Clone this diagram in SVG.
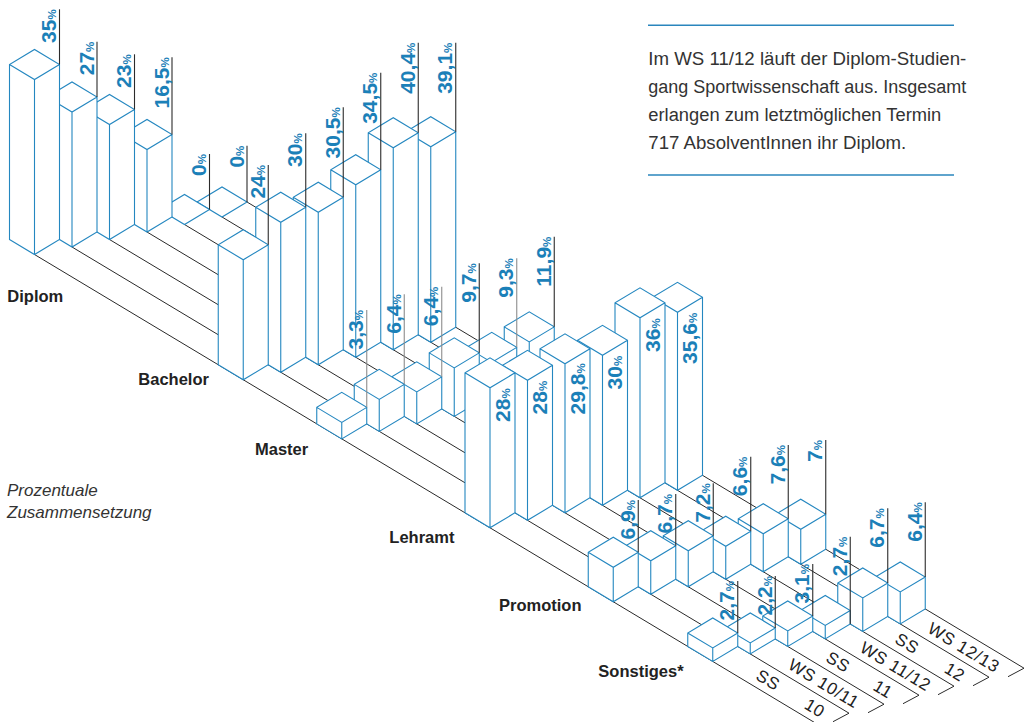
<svg xmlns="http://www.w3.org/2000/svg" width="1026" height="722" viewBox="0 0 1026 722">
<style>
.bx{fill:#fff;stroke:#2487c0;stroke-width:1.1;stroke-linejoin:miter}
.ld{stroke:#2b2b2b;stroke-width:1.1}
.lg{stroke:#8c8c8c;stroke-width:1.1}
.fl{stroke:#2b2b2b;stroke-width:1;fill:none}
.v{font-family:"Liberation Sans",Arial,sans-serif;font-weight:bold;font-size:21px;fill:#1b80b8}
.v tspan{font-size:11.5px}
.cat{font-family:"Liberation Sans",Arial,sans-serif;font-weight:bold;font-size:16.5px;fill:#222}
.tm{font-family:"Liberation Sans",Arial,sans-serif;font-size:17px;fill:#222;letter-spacing:0.7px}
.p{font-family:"Liberation Sans",Arial,sans-serif;font-size:18px;fill:#333}
.it{font-family:"Liberation Sans",Arial,sans-serif;font-size:17px;font-style:italic;fill:#333}
.rule{stroke:#2a86bd;stroke-width:1.4}
</style>

<g id="info">
<line class="rule" x1="648" y1="25.3" x2="954" y2="25.3"/>
<text class="p" x="648.3" y="65" textLength="318" lengthAdjust="spacingAndGlyphs">Im WS 11/12 läuft der Diplom-Studien-</text>
<text class="p" x="648.3" y="93.3" textLength="318" lengthAdjust="spacingAndGlyphs">gang Sportwissenschaft aus. Insgesamt</text>
<text class="p" x="648.3" y="121" textLength="293" lengthAdjust="spacingAndGlyphs">erlangen zum letztmöglichen Termin</text>
<text class="p" x="648.3" y="149" textLength="258" lengthAdjust="spacingAndGlyphs">717 AbsolventInnen ihr Diplom.</text>
<line class="rule" x1="648" y1="175" x2="954" y2="175"/>
</g>

<g id="connectors">
<path class="fl" d="M34.5,254.5L814,722.2L798,730.7"/>
<path class="fl" d="M72,247L849,713.2L833,721.7"/>
<path class="fl" d="M109.5,239.5L884,704.2L868,712.7"/>
<path class="fl" d="M147,232L919,695.2L903,703.7"/>
<path class="fl" d="M184.5,224.5L954,686.2L938,694.7"/>
<path class="fl" d="M222,217L989,677.2L973,685.7"/>
<path class="fl" d="M247,202L1024,668.2L1008,676.7"/>
</g>

<g id="time-labels" class="tm" text-anchor="middle">
<text transform="translate(768.3,679.8) rotate(31)" dy="0.36em">SS</text>
<text transform="translate(815,707.8) rotate(31)" dy="0.36em">10</text>
<text transform="translate(824,683.2) rotate(31)" dy="0.36em">WS 10/11</text>
<text transform="translate(838.3,661.8) rotate(31)" dy="0.36em">SS</text>
<text transform="translate(883.3,688.8) rotate(31)" dy="0.36em">11</text>
<text transform="translate(895.7,666.2) rotate(31)" dy="0.36em">WS 11/12</text>
<text transform="translate(907.3,643.2) rotate(31)" dy="0.36em">SS</text>
<text transform="translate(955,671.8) rotate(31)" dy="0.36em">12</text>
<text transform="translate(964,647.2) rotate(31)" dy="0.36em">WS 12/13</text>
</g>

<g id="diplom">
<g id="diplom-ws1213" transform="translate(222,217)"><path class="bx" d="M-25,-15L0,0L25,-15L0,-30Z"/><line class="ld" x1="25" y1="-15" x2="25" y2="-71.3"/><text class="v" transform="translate(21.5,-71.3) rotate(-90)" text-anchor="end">0<tspan>%</tspan></text></g>
<g id="diplom-ss12" transform="translate(184.5,224.5)"><path class="bx" d="M-25,-15L0,0L25,-15L0,-30Z"/><line class="ld" x1="25" y1="-15" x2="25" y2="-70.5"/><text class="v" transform="translate(21.5,-70.5) rotate(-90)" text-anchor="end">0<tspan>%</tspan></text></g>
<g id="diplom-ws1112" transform="translate(147,232)"><path class="bx" d="M-25,-15L0,0L25,-15V-97.5L0,-112.5L-25,-97.5ZM0,0V-82.5M-25,-97.5L0,-82.5L25,-97.5"/><line class="ld" x1="25" y1="-97.5" x2="25" y2="-174.7"/><text class="v" transform="translate(21.5,-174.7) rotate(-90)" text-anchor="end">16,5<tspan>%</tspan></text></g>
<g id="diplom-ss11" transform="translate(109.5,239.5)"><path class="bx" d="M-25,-15L0,0L25,-15V-130L0,-145L-25,-130ZM0,0V-115M-25,-130L0,-115L25,-130"/><line class="ld" x1="25" y1="-130" x2="25" y2="-185.2"/><text class="v" transform="translate(21.5,-185.2) rotate(-90)" text-anchor="end">23<tspan>%</tspan></text></g>
<g id="diplom-ws1011" transform="translate(72,247)"><path class="bx" d="M-25,-15L0,0L25,-15V-150L0,-165L-25,-150ZM0,0V-135M-25,-150L0,-135L25,-150"/><line class="ld" x1="25" y1="-150" x2="25" y2="-205.3"/><text class="v" transform="translate(21.5,-205.3) rotate(-90)" text-anchor="end">27<tspan>%</tspan></text></g>
<g id="diplom-ss10" transform="translate(34.5,254.5)"><path class="bx" d="M-25,-15L0,0L25,-15V-190L0,-205L-25,-190ZM0,0V-175M-25,-190L0,-175L25,-190"/><line class="ld" x1="25" y1="-190" x2="25" y2="-245.2"/><text class="v" transform="translate(21.5,-245.2) rotate(-90)" text-anchor="end">35<tspan>%</tspan></text></g>
</g>

<g id="bachelor">
<g id="bachelor-ws1213" transform="translate(430.75,342.25)"><path class="bx" d="M-25,-15L0,0L25,-15V-210.5L0,-225.5L-25,-210.5ZM0,0V-195.5M-25,-210.5L0,-195.5L25,-210.5"/><line class="ld" x1="25" y1="-210.5" x2="25" y2="-299.55"/><text class="v" transform="translate(21.5,-299.55) rotate(-90)" text-anchor="end">39,1<tspan>%</tspan></text></g>
<g id="bachelor-ss12" transform="translate(393.25,349.75)"><path class="bx" d="M-25,-15L0,0L25,-15V-217L0,-232L-25,-217ZM0,0V-202M-25,-217L0,-202L25,-217"/><line class="ld" x1="25" y1="-217" x2="25" y2="-307.05"/><text class="v" transform="translate(21.5,-307.05) rotate(-90)" text-anchor="end">40,4<tspan>%</tspan></text></g>
<g id="bachelor-ws1112" transform="translate(355.75,357.25)"><path class="bx" d="M-25,-15L0,0L25,-15V-187.5L0,-202.5L-25,-187.5ZM0,0V-172.5M-25,-187.5L0,-172.5L25,-187.5"/><line class="ld" x1="25" y1="-187.5" x2="25" y2="-284.55"/><text class="v" transform="translate(21.5,-284.55) rotate(-90)" text-anchor="end">34,5<tspan>%</tspan></text></g>
<g id="bachelor-ss11" transform="translate(318.25,364.75)"><path class="bx" d="M-25,-15L0,0L25,-15V-167.5L0,-182.5L-25,-167.5ZM0,0V-152.5M-25,-167.5L0,-152.5L25,-167.5"/><line class="ld" x1="25" y1="-167.5" x2="25" y2="-257.45"/><text class="v" transform="translate(21.5,-257.45) rotate(-90)" text-anchor="end">30,5<tspan>%</tspan></text></g>
<g id="bachelor-ws1011" transform="translate(280.75,372.25)"><path class="bx" d="M-25,-15L0,0L25,-15V-165L0,-180L-25,-165ZM0,0V-150M-25,-165L0,-150L25,-165"/><line class="ld" x1="25" y1="-165" x2="25" y2="-238.95"/><text class="v" transform="translate(21.5,-238.95) rotate(-90)" text-anchor="end">30<tspan>%</tspan></text></g>
<g id="bachelor-ss10" transform="translate(243.25,379.75)"><path class="bx" d="M-25,-15L0,0L25,-15V-135L0,-150L-25,-135ZM0,0V-120M-25,-135L0,-120L25,-135"/><line class="ld" x1="25" y1="-135" x2="25" y2="-214.75"/><text class="v" transform="translate(21.5,-214.75) rotate(-90)" text-anchor="end">24<tspan>%</tspan></text></g>
</g>

<g id="master">
<g id="master-ws1213" transform="translate(529.25,401.35)"><path class="bx" d="M-25,-15L0,0L25,-15V-74.5L0,-89.5L-25,-74.5ZM0,0V-59.5M-25,-74.5L0,-59.5L25,-74.5"/><line class="ld" x1="25" y1="-74.5" x2="25" y2="-164.65"/><text class="v" transform="translate(21.5,-164.65) rotate(-90)" text-anchor="end">11,9<tspan>%</tspan></text></g>
<g id="master-ss12" transform="translate(491.75,408.85)"><path class="bx" d="M-25,-15L0,0L25,-15V-61.5L0,-76.5L-25,-61.5ZM0,0V-46.5M-25,-61.5L0,-46.5L25,-61.5"/><line class="lg" x1="25" y1="-61.5" x2="25" y2="-150.55"/><text class="v" transform="translate(21.5,-150.55) rotate(-90)" text-anchor="end">9,3<tspan>%</tspan></text></g>
<g id="master-ws1112" transform="translate(454.25,416.35)"><path class="bx" d="M-25,-15L0,0L25,-15V-63.5L0,-78.5L-25,-63.5ZM0,0V-48.5M-25,-63.5L0,-48.5L25,-63.5"/><line class="ld" x1="25" y1="-63.5" x2="25" y2="-153.05"/><text class="v" transform="translate(21.5,-153.05) rotate(-90)" text-anchor="end">9,7<tspan>%</tspan></text></g>
<g id="master-ss11" transform="translate(416.75,423.85)"><path class="bx" d="M-25,-15L0,0L25,-15V-47L0,-62L-25,-47ZM0,0V-32M-25,-47L0,-32L25,-47"/><line class="lg" x1="25" y1="-47" x2="25" y2="-137.15"/><text class="v" transform="translate(21.5,-137.15) rotate(-90)" text-anchor="end">6,4<tspan>%</tspan></text></g>
<g id="master-ws1011" transform="translate(379.25,431.35)"><path class="bx" d="M-25,-15L0,0L25,-15V-47L0,-62L-25,-47ZM0,0V-32M-25,-47L0,-32L25,-47"/><line class="lg" x1="25" y1="-47" x2="25" y2="-137.05"/><text class="v" transform="translate(21.5,-137.05) rotate(-90)" text-anchor="end">6,4<tspan>%</tspan></text></g>
<g id="master-ss10" transform="translate(341.75,438.85)"><path class="bx" d="M-25,-15L0,0L25,-15V-31.5L0,-46.5L-25,-31.5ZM0,0V-16.5M-25,-31.5L0,-16.5L25,-31.5"/><line class="lg" x1="25" y1="-31.5" x2="25" y2="-128.85"/><text class="v" transform="translate(21.5,-128.85) rotate(-90)" text-anchor="end">3,3<tspan>%</tspan></text></g>
</g>

<g id="lehramt">
<g id="lehramt-ws1213" transform="translate(677.5,490.3)"><path class="bx" d="M-25,-15L0,0L25,-15V-193L0,-208L-25,-193ZM0,0V-178M-25,-193L0,-178L25,-193"/><text class="v" transform="translate(19.5,-177.5) rotate(-90)" text-anchor="end">35,6<tspan>%</tspan></text></g>
<g id="lehramt-ss12" transform="translate(640,497.8)"><path class="bx" d="M-25,-15L0,0L25,-15V-195L0,-210L-25,-195ZM0,0V-180M-25,-195L0,-180L25,-195"/><text class="v" transform="translate(19.5,-179.5) rotate(-90)" text-anchor="end">36<tspan>%</tspan></text></g>
<g id="lehramt-ws1112" transform="translate(602.5,505.3)"><path class="bx" d="M-25,-15L0,0L25,-15V-165L0,-180L-25,-165ZM0,0V-150M-25,-165L0,-150L25,-165"/><text class="v" transform="translate(19.5,-149.5) rotate(-90)" text-anchor="end">30<tspan>%</tspan></text></g>
<g id="lehramt-ss11" transform="translate(565,512.8)"><path class="bx" d="M-25,-15L0,0L25,-15V-164L0,-179L-25,-164ZM0,0V-149M-25,-164L0,-149L25,-164"/><text class="v" transform="translate(19.5,-149.5) rotate(-90)" text-anchor="end">29,8<tspan>%</tspan></text></g>
<g id="lehramt-ws1011" transform="translate(527.5,520.3)"><path class="bx" d="M-25,-15L0,0L25,-15V-155L0,-170L-25,-155ZM0,0V-140M-25,-155L0,-140L25,-155"/><text class="v" transform="translate(19.5,-139.5) rotate(-90)" text-anchor="end">28<tspan>%</tspan></text></g>
<g id="lehramt-ss10" transform="translate(490,527.8)"><path class="bx" d="M-25,-15L0,0L25,-15V-155L0,-170L-25,-155ZM0,0V-140M-25,-155L0,-140L25,-155"/><text class="v" transform="translate(19.5,-139.5) rotate(-90)" text-anchor="end">28<tspan>%</tspan></text></g>
</g>

<g id="promotion">
<g id="promotion-ws1213" transform="translate(800.75,564.25)"><path class="bx" d="M-25,-15L0,0L25,-15V-50L0,-65L-25,-50ZM0,0V-35M-25,-50L0,-35L25,-50"/><line class="ld" x1="25" y1="-50" x2="25" y2="-124.25"/><text class="v" transform="translate(21.5,-124.25) rotate(-90)" text-anchor="end">7<tspan>%</tspan></text></g>
<g id="promotion-ss12" transform="translate(763.25,571.75)"><path class="bx" d="M-25,-15L0,0L25,-15V-53L0,-68L-25,-53ZM0,0V-38M-25,-53L0,-38L25,-53"/><line class="ld" x1="25" y1="-53" x2="25" y2="-126.75"/><text class="v" transform="translate(21.5,-126.75) rotate(-90)" text-anchor="end">7,6<tspan>%</tspan></text></g>
<g id="promotion-ws1112" transform="translate(725.75,579.25)"><path class="bx" d="M-25,-15L0,0L25,-15V-48L0,-63L-25,-48ZM0,0V-33M-25,-48L0,-33L25,-48"/><line class="ld" x1="25" y1="-48" x2="25" y2="-122.55"/><text class="v" transform="translate(21.5,-122.55) rotate(-90)" text-anchor="end">6,6<tspan>%</tspan></text></g>
<g id="promotion-ss11" transform="translate(688.25,586.75)"><path class="bx" d="M-25,-15L0,0L25,-15V-51L0,-66L-25,-51ZM0,0V-36M-25,-51L0,-36L25,-51"/><line class="ld" x1="25" y1="-51" x2="25" y2="-103.45"/><text class="v" transform="translate(21.5,-103.45) rotate(-90)" text-anchor="end">7,2<tspan>%</tspan></text></g>
<g id="promotion-ws1011" transform="translate(650.75,594.25)"><path class="bx" d="M-25,-15L0,0L25,-15V-48.5L0,-63.5L-25,-48.5ZM0,0V-33.5M-25,-48.5L0,-33.5L25,-48.5"/><line class="ld" x1="25" y1="-48.5" x2="25" y2="-100.25"/><text class="v" transform="translate(21.5,-100.25) rotate(-90)" text-anchor="end">6,7<tspan>%</tspan></text></g>
<g id="promotion-ss10" transform="translate(613.25,601.75)"><path class="bx" d="M-25,-15L0,0L25,-15V-49.5L0,-64.5L-25,-49.5ZM0,0V-34.5M-25,-49.5L0,-34.5L25,-49.5"/><line class="ld" x1="25" y1="-49.5" x2="25" y2="-101.75"/><text class="v" transform="translate(21.5,-101.75) rotate(-90)" text-anchor="end">6,9<tspan>%</tspan></text></g>
</g>

<g id="sonstiges">
<g id="sonstiges-ws1213" transform="translate(900.25,623.95)"><path class="bx" d="M-25,-15L0,0L25,-15V-47L0,-62L-25,-47ZM0,0V-32M-25,-47L0,-32L25,-47"/><line class="ld" x1="25" y1="-47" x2="25" y2="-121.65"/><text class="v" transform="translate(21.5,-121.65) rotate(-90)" text-anchor="end">6,4<tspan>%</tspan></text></g>
<g id="sonstiges-ss12" transform="translate(862.75,631.45)"><path class="bx" d="M-25,-15L0,0L25,-15V-48.5L0,-63.5L-25,-48.5ZM0,0V-33.5M-25,-48.5L0,-33.5L25,-48.5"/><line class="ld" x1="25" y1="-48.5" x2="25" y2="-123.15"/><text class="v" transform="translate(21.5,-123.15) rotate(-90)" text-anchor="end">6,7<tspan>%</tspan></text></g>
<g id="sonstiges-ws1112" transform="translate(825.25,638.95)"><path class="bx" d="M-25,-15L0,0L25,-15V-28.5L0,-43.5L-25,-28.5ZM0,0V-13.5M-25,-28.5L0,-13.5L25,-28.5"/><line class="ld" x1="25" y1="-15" x2="25" y2="-102.25"/><text class="v" transform="translate(21.5,-102.25) rotate(-90)" text-anchor="end">2,7<tspan>%</tspan></text></g>
<g id="sonstiges-ss11" transform="translate(787.75,646.45)"><path class="bx" d="M-25,-15L0,0L25,-15V-30.5L0,-45.5L-25,-30.5ZM0,0V-15.5M-25,-30.5L0,-15.5L25,-30.5"/><line class="ld" x1="25" y1="-30.5" x2="25" y2="-82.45"/><text class="v" transform="translate(21.5,-82.45) rotate(-90)" text-anchor="end">3,1<tspan>%</tspan></text></g>
<g id="sonstiges-ws1011" transform="translate(750.25,653.95)"><path class="bx" d="M-25,-15L0,0L25,-15V-26L0,-41L-25,-26ZM0,0V-11M-25,-26L0,-11L25,-26"/><line class="ld" x1="25" y1="-26" x2="25" y2="-77.95"/><text class="v" transform="translate(21.5,-77.95) rotate(-90)" text-anchor="end">2,2<tspan>%</tspan></text></g>
<g id="sonstiges-ss10" transform="translate(712.75,661.45)"><path class="bx" d="M-25,-15L0,0L25,-15V-28.5L0,-43.5L-25,-28.5ZM0,0V-13.5M-25,-28.5L0,-13.5L25,-28.5"/><line class="ld" x1="25" y1="-28.5" x2="25" y2="-80.45"/><text class="v" transform="translate(21.5,-80.45) rotate(-90)" text-anchor="end">2,7<tspan>%</tspan></text></g>
</g>

<g id="category-labels" class="cat">
<text x="7.3" y="301.7">Diplom</text>
<text x="138.3" y="385">Bachelor</text>
<text x="255" y="455">Master</text>
<text x="389.3" y="543">Lehramt</text>
<text x="499" y="611">Promotion</text>
<text x="598.3" y="676.7">Sonstiges*</text>
</g>

<g id="caption" class="it">
<text x="7" y="495.7">Prozentuale</text>
<text x="7" y="518.3">Zusammensetzung</text>
</g>
</svg>
